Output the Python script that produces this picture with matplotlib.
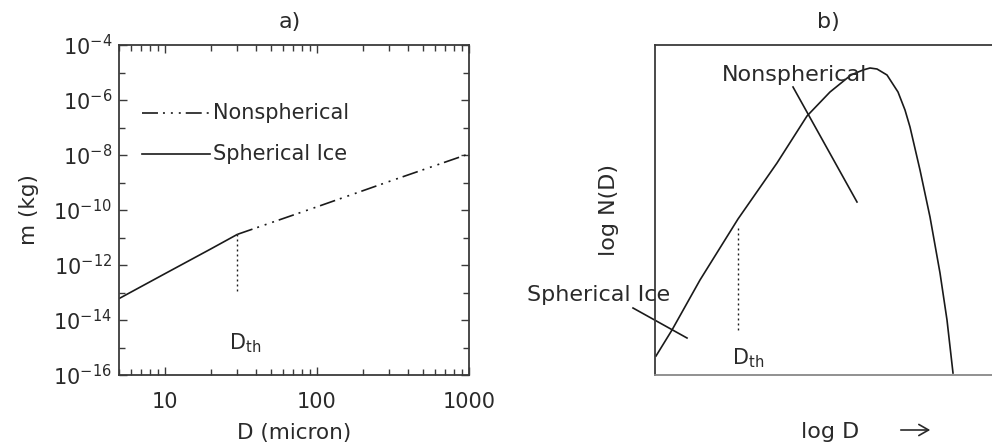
import matplotlib
matplotlib.use("Agg")
import matplotlib.pyplot as plt
from matplotlib.ticker import FixedLocator, NullFormatter

plt.rcParams['font.family'] = ['DejaVu Sans']
plt.rcParams['mathtext.fontset'] = 'dejavusans'
plt.rcParams['lines.scale_dashes'] = False

# ---- Panel a data: mass vs diameter ----
sph_D = [5, 10, 20, 30]                      # micron
sph_m = [6.0e-14, 4.8e-13, 3.8e-12, 1.3e-11]  # kg
non_D = [30, 100, 300, 1000]
non_m = [1.3e-11, 1.3e-10, 1.1e-9, 1.1e-8]
dth_D = [30, 30]
dth_m = [1.3e-11, 1.0e-13]

x_ticks = [10, 100, 1000]
x_ticklabels = ['10', '100', '1000']
y_major = [1e-4, 1e-6, 1e-8, 1e-10, 1e-12, 1e-14, 1e-16]
y_major_labels = [r'$10^{-4}$', r'$10^{-6}$', r'$10^{-8}$', r'$10^{-10}$',
                  r'$10^{-12}$', r'$10^{-14}$', r'$10^{-16}$']
y_minor = [1e-5, 1e-7, 1e-9, 1e-11, 1e-13, 1e-15]
x_minor = [5, 6, 7, 8, 9, 20, 30, 40, 50, 60, 70, 80, 90,
           200, 300, 400, 500, 600, 700, 800, 900]

# ---- Panel b data: schematic size distribution (arbitrary units) ----
nd_x = [1, 17, 45, 83, 122, 152, 175, 196, 208, 215, 222,
        232, 243, 250, 255, 265, 275, 285, 292, 298]
nd_y = [19, 45, 95, 156, 212, 259, 283, 300, 305, 307, 306,
        300, 283, 265, 248, 205, 158, 102, 55, 2]
dth_x = [83, 83]
dth_y = [147, 43]
ns_ptr_x = [138, 202]
ns_ptr_y = [288, 173]
sp_ptr_x = [-22, 32]
sp_ptr_y = [67, 37]

INK = '#1a1a1a'
TXT = '#2a2a2a'
SPINE = '#3a3a3a'
NONSPH_DASH = (0, (11.5, 3.6, 1.4, 4.3, 1.4, 4.3, 1.4, 3.6))
DOT = (0, (1.4, 2.2))

fig = plt.figure(figsize=(9.92, 4.45), dpi=100)

# ---------------- Panel a ----------------
ax = fig.add_axes([119/992, 70/445, 350/992, 330/445])
ax.set_xscale('log')
ax.set_yscale('log')
ax.set_xlim(5, 1000)
ax.set_ylim(1e-16, 1e-4)

ax.plot(sph_D, sph_m, color=INK, lw=1.2, solid_capstyle='butt')
ax.plot(non_D, non_m, color=INK, lw=1.2, linestyle=NONSPH_DASH)
ax.plot(dth_D, dth_m, color=INK, lw=1.0, linestyle=DOT)

# legend drawn as lines + labels
ax.plot([7.1, 19.9], [3.4e-7, 3.4e-7], color=INK, lw=1.2, linestyle=NONSPH_DASH)
ax.plot([7.1, 19.9], [1.1e-8, 1.1e-8], color=INK, lw=1.2)
ax.text(20.8, 3.4e-7, 'Nonspherical', fontsize=15, color=TXT, va='center', ha='left')
ax.text(20.8, 1.1e-8, 'Spherical Ice', fontsize=15, color=TXT, va='center', ha='left')
ax.text(26.5, 1.4e-15, r'D$_{\rm th}$', fontsize=15, color=TXT, va='center', ha='left')

ax.xaxis.set_major_locator(FixedLocator(x_ticks))
ax.set_xticklabels(x_ticklabels)
ax.xaxis.set_minor_locator(FixedLocator(x_minor))
ax.xaxis.set_minor_formatter(NullFormatter())
ax.yaxis.set_major_locator(FixedLocator(y_major))
ax.set_yticklabels(y_major_labels)
ax.yaxis.set_minor_locator(FixedLocator(y_minor))
ax.yaxis.set_minor_formatter(NullFormatter())

ax.tick_params(which='both', direction='in', top=True, right=True, color=SPINE,
               labelcolor=TXT, labelsize=15, width=1.0)
ax.tick_params(which='major', length=6)
ax.tick_params(which='minor', length=4)
ax.tick_params(axis='x', which='major', pad=12)
ax.tick_params(axis='y', which='major', pad=5)
for s in ax.spines.values():
    s.set_color(SPINE)
    s.set_linewidth(1.3)

ax.set_xlabel('D (micron)', fontsize=15.5, color=TXT, labelpad=8)
ax.set_ylabel('m (kg)', fontsize=15.5, color=TXT, labelpad=10)
fig.text(290/992, 1 - 22/445, 'a)', fontsize=16, color=TXT, ha='center', va='center')

# ---------------- Panel b ----------------
bx = fig.add_axes([655/992, 70/445, 340/992, 330/445])
bx.set_xlim(0, 340)
bx.set_ylim(0, 330)
bx.plot(nd_x, nd_y, color=INK, lw=1.2)
bx.plot(dth_x, dth_y, color=INK, lw=1.0, linestyle=DOT)
bx.plot(ns_ptr_x, ns_ptr_y, color=INK, lw=1.2)
bx.plot(sp_ptr_x, sp_ptr_y, color=INK, lw=1.2, clip_on=False)
bx.text(67, 300, 'Nonspherical', fontsize=16, color=TXT, va='center', ha='left')
bx.text(-128, 80, 'Spherical Ice', fontsize=16, color=TXT, va='center', ha='left')
bx.text(77, 17, r'D$_{\rm th}$', fontsize=15, color=TXT, va='center', ha='left')
bx.set_xticks([])
bx.set_yticks([])
for s in bx.spines.values():
    s.set_color(SPINE)
    s.set_linewidth(1.3)
bx.spines['bottom'].set_color('#888888')
bx.set_ylabel('log N(D)', fontsize=16, color=TXT, labelpad=26)
fig.text(830/992, 1 - 432/445, 'log D', fontsize=16, color=TXT, ha='center', va='center')
fig.add_artist(matplotlib.patches.FancyArrowPatch(
    (898/992, 1 - 430/445), (933/992, 1 - 430/445), transform=fig.transFigure,
    arrowstyle='->,head_length=7,head_width=4', color=TXT, lw=1.2,
    mutation_scale=1))
fig.text(828/992, 1 - 22/445, 'b)', fontsize=16, color=TXT, ha='center', va='center')

fig.savefig('out.png', dpi=100)
